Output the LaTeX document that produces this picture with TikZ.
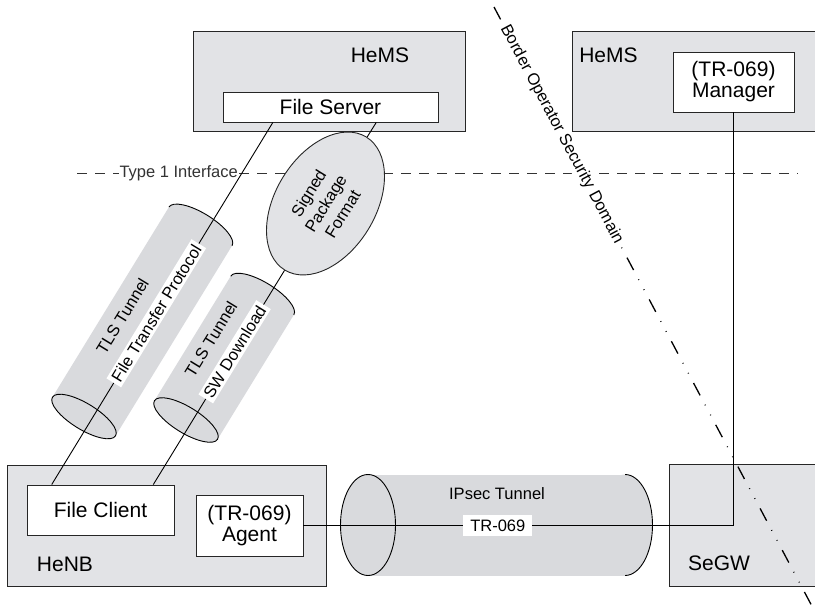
\documentclass[tikz,border=0pt]{standalone}
\usepackage{fontspec}
\setmainfont{Liberation Sans}
\usetikzlibrary{shapes.geometric,calc}
\definecolor{boxgray}{RGB}{226,227,230}
\definecolor{tubegray}{RGB}{217,218,221}
\begin{document}
\begin{tikzpicture}[
    x=1pt, y=-1pt,
    box/.style={draw=black!85, line width=1pt, fill=boxgray, inner sep=0pt},
    wbox/.style={draw=black!85, line width=0.9pt, fill=white, inner sep=0pt, align=center, big},
    big/.style={font=\fontsize{21}{21}\selectfont},
    txt/.style={font=\fontsize{16.5}{20}\selectfont},
    lbl/.style={txt, fill=white, inner xsep=3pt, inner ysep=2.5pt},
    conn/.style={line width=0.9pt},
    pics/tunnel/.style args={#1/#2/#3}{code={
        \fill[tubegray] (0,-#3) -- (#1,-#3) -- (#1,#3) -- (0,#3) -- cycle;
        \fill[tubegray] (#1,0) ellipse [x radius=#2, y radius=#3];
        \begin{scope}
            \clip (#1,-#3-2) rectangle (#1+#2+2,#3+2);
            \draw[line width=0.9pt] (#1,0) ellipse [x radius=#2, y radius=#3];
        \end{scope}
        \draw[line width=0.9pt, fill=tubegray] (0,0) ellipse [x radius=#2, y radius=#3];
    }}
]
\path[use as bounding box, clip] (0,0) rectangle (815,610);

% HeMS with file server
\node[box, minimum width=272, minimum height=100] (hemsA) at (329,82) {};
\node[big] (hemsAname) at (380,55) {HeMS};
\node[wbox, minimum width=215, minimum height=30] (fserver) at (330.5,107) {File Server};

% HeMS with manager
\node[box, minimum width=248, minimum height=100] (hemsB) at (696,82) {};
\node[big] (hemsBname) at (608.5,55) {HeMS};
\node[wbox, minimum width=121, minimum height=60] (manager) at (733.5,82) {(TR-069)\\Manager};

% HeNB
\node[box, minimum width=319, minimum height=121] (henb) at (166.5,525.5) {};
\node[big] (henbname) at (65,564) {HeNB};
\node[wbox, minimum width=147, minimum height=50] (fclient) at (100.5,510) {File Client};
\node[wbox, minimum width=107, minimum height=61] (agent) at (249.5,525.5) {(TR-069)\\Agent};

% SeGW
\node[box, minimum width=151, minimum height=122] (segw) at (744.5,525) {};
\node[big] (segwname) at (719,563) {SeGW};

% Type 1 interface
\coordinate (ifleft) at (77,173);
\coordinate (ifright) at (798,173);
\draw[black!80, line width=1pt, dash pattern=on 10pt off 8pt] (ifleft) -- node[txt, fill=white, inner sep=1pt, pos=0.141] (ifname) {Type 1 Interface} (ifright);

% tunnels
\pic[rotate=58.5] at (84,416.5) {tunnel=223/13/37};
\pic[rotate=58.5] at (186,420) {tunnel=146/13/37};
\pic at (368,525) {tunnel=257/27.5/50.5};
\node[txt, rotate=58.5] (tlsA) at (122.5,316) {TLS Tunnel};
\node[txt, rotate=58.5] (tlsB) at (211,339) {TLS Tunnel};
\node[txt] (ipsec) at (497,494) {IPsec Tunnel};

% signed package
\node[ellipse, draw=black!85, line width=0.9pt, fill=boxgray, rotate=58.5, minimum width=156, minimum height=100, inner sep=0pt, txt, align=center] (spf) at (325.5,203.5) {Signed\\Package\\Format};

% connectors
\draw[conn] ($(fserver.south west)!0.233!(fserver.south east)$) -- node[lbl, sloped, pos=0.527] {File Transfer Protocol} ($(fclient.north west)!0.17!(fclient.north east)$);
\draw[conn] ($(fserver.south west)!0.712!(fserver.south east)$) -- (spf) -- node[lbl, sloped, pos=0.38] {SW Download} ($(fclient.north west)!0.857!(fclient.north east)$);
\draw[conn] (agent) -- node[lbl, inner xsep=7pt, inner ysep=5pt, pos=0.452] {TR-069} (agent -| manager) -- (manager);

% security domain border
\coordinate (bordtop) at (494,7);
\coordinate (bordbot) at (819.3,620);
\draw[line width=1.3pt, dash pattern=on 14pt off 10.5pt on 0.8pt off 10.5pt on 0.8pt off 10.7pt] (bordtop) -- node[txt, sloped, fill=white, inner sep=1.5pt, pos=0.2078] (bordname) {Border Operator Security Domain} (bordbot);
\end{tikzpicture}
\end{document}
